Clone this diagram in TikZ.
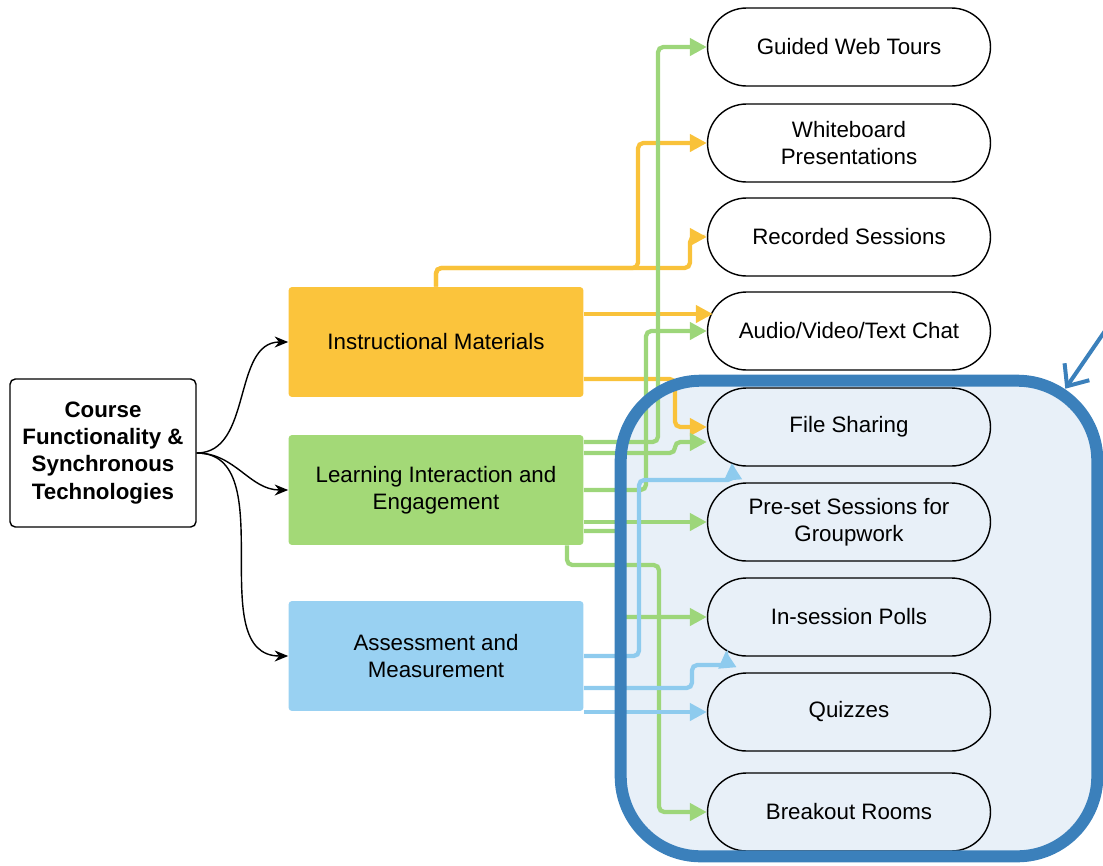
\documentclass[tikz,border=0pt]{standalone}
\usepackage{fontspec}
\setmainfont{Liberation Sans}
\usetikzlibrary{shapes.misc,arrows.meta,calc}

\begin{document}
\begin{tikzpicture}[x=0.02cm,y=-0.02cm,every node/.style={font=\fontsize{12.7}{15.4}\selectfont}]
  \definecolor{coulI}{HTML}{FBC43C} \definecolor{coulL}{HTML}{A3D977} \definecolor{coulA}{HTML}{99D1F2}
  \definecolor{lineI}{HTML}{F9C23A} \definecolor{lineL}{HTML}{9DD67A} \definecolor{lineA}{HTML}{8ECBEE}
  \definecolor{zonefill}{HTML}{E8F0F8} \definecolor{zoneline}{HTML}{3B80BB}
  \tikzstyle{catbox}=[minimum width=5.9cm, minimum height=2.2cm, rounded corners=2pt, align=center, inner sep=0pt]
  \tikzstyle{tool}=[rounded rectangle, draw, line width=0.8pt, minimum width=5.66cm, minimum height=1.56cm, align=center, inner sep=0pt]
  \tikzstyle{link}=[line width=0.085cm, rounded corners=3pt, -{Triangle[length=0.34cm,width=0.34cm]}]
  \tikzstyle{oline}=[link, draw=lineI]
  \tikzstyle{gline}=[link, draw=lineL]
  \tikzstyle{bline}=[link, draw=lineA]
  \useasboundingbox (0,0) rectangle (1103,866);

  \node[fill=zonefill, rounded corners=1.6cm, minimum width=9.52cm, minimum height=9.5cm, inner sep=0pt] (zone) at (859,618.5) {};

  \foreach \nm/\yy/\txt in {gw/47/{Guided Web Tours}, wb/143/{Whiteboard\\Presentations}, rs/237/{Recorded Sessions},
      av/331/{Audio/Video/Text Chat}, fs/427/{File Sharing}, ps/522/{Pre-set Sessions for\\Groupwork},
      ip/617/{In-session Polls}, qz/712/{Quizzes}, br/812/{Breakout Rooms}} {
    \node[tool] (\nm) at (849,\yy) {\txt};
  }

  \node[draw, rounded corners=3pt, line width=0.8pt, minimum width=3.72cm, minimum height=2.96cm, align=center,
        font=\fontsize{12.7}{15.4}\selectfont\bfseries] (course) at (103,453) {Course\\Functionality \&\\Synchronous\\Technologies};
  \node[catbox, fill=coulI] (instr) at (436,342) {Instructional Materials};
  \node[catbox, fill=coulL] (learn) at (436,490) {Learning Interaction and\\Engagement};
  \node[catbox, fill=coulA] (assess) at (436,656) {Assessment and\\Measurement};

  \foreach \cat in {instr,learn,assess}
    \draw[line width=0.8pt, -{Stealth[length=0.27cm,width=0.22cm]}] (course.east) to[out=0,in=180] (\cat.west);

  % instructional
  \draw[oline] (instr.north) |- (638,268) |- (wb.west);
  \draw[oline] (instr.north) |- (690,268) |- (rs.west);
  \draw[oline] (instr.east |- 0,314) -- ($(av.west)+(6,-17)$);
  \draw[oline] (instr.east |- 0,379) -| (675,427) -- (fs.west);
  % learning
  \draw[gline] (learn.east |- 0,442) -- (658,442) |- (gw.west);
  \draw[gline] (learn.east) -- (646,490) |- (av.west);
  \draw[gline] (learn.east |- 0,453) -- (675,453) |- ($(fs.west)+(0,15)$);
  \draw[gline] (learn.east |- ps.west) -- (ps.west);
  \draw[gline] (learn.east |- 0,531) -- (621,531) |- (ip.west);
  \draw[gline] (learn.south -| 567,0) |- (659,565) |- (br.west);
  % assessment
  \draw[bline] (assess.east) -- (639,656) |- (733,480) -- ($(fs.west)+(25,36)$);
  \draw[bline] (assess.east |- 0,688) -- (692,688) |- (727,665) -- ($(ip.west)+(19,34)$);
  \draw[bline] (assess.east |- qz.west) -- (qz.west);

  \draw[line width=0.24cm, draw=zoneline, rounded corners=1.6cm] (zone.south west) rectangle (zone.north east);
  \coordinate (callout) at (1118,312);
  \draw[line width=0.08cm, draw=zoneline, line cap=round, -{Straight Barb[length=0.35cm,width=0.6cm]}] (callout) -- ($(zone.north east)+(-32,8)$);
\end{tikzpicture}
\end{document}
